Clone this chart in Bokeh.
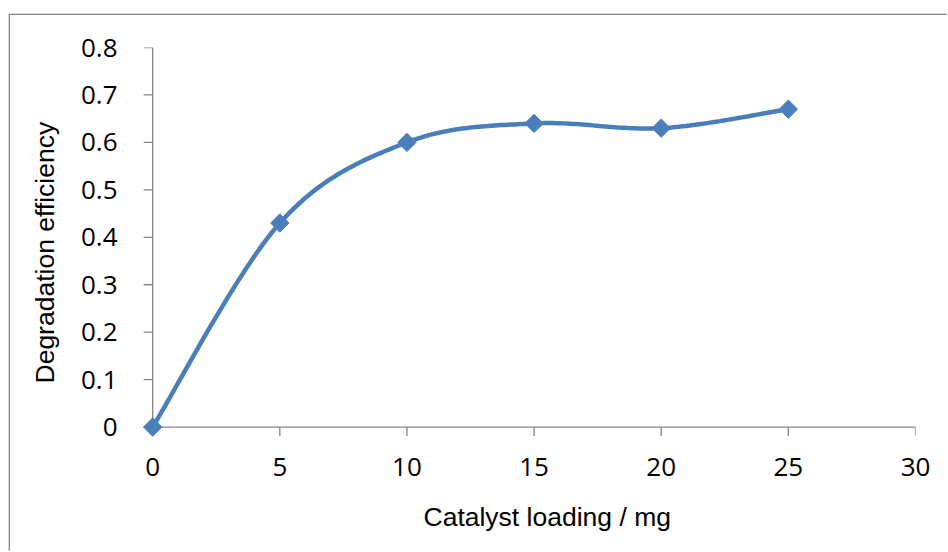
import numpy as np
from bokeh.plotting import figure
from bokeh.models import Range1d, FixedTicker, ColumnDataSource, Title
from bokeh.embed import file_html
from bokeh.resources import INLINE

# data
loading_mg = [0, 5, 10, 15, 20, 25]
efficiency = [0.0, 0.43, 0.60, 0.64, 0.63, 0.67]
x_ticks = [0, 5, 10, 15, 20, 25, 30]
y_ticks = [0, 0.1, 0.2, 0.3, 0.4, 0.5, 0.6, 0.7, 0.8]
x_title = "Catalyst loading / mg"
y_title = "Degradation efficiency"

BLUE = "#4A7EBB"
GRAY = "#868686"


def smooth(xs, ys, n=40):
    """Excel-like smoothed line (Catmull-Rom Bezier) through the points."""
    P = np.column_stack([xs, ys]).astype(float)
    out = []
    for i in range(len(P) - 1):
        p0 = P[i - 1] if i > 0 else P[i]
        p1, p2 = P[i], P[i + 1]
        p3 = P[i + 2] if i + 2 < len(P) else P[i + 1]
        c1 = p1 + (p2 - p0) / 6.0
        c2 = p2 - (p3 - p1) / 6.0
        t = np.linspace(0, 1, n)[:, None]
        seg = ((1 - t) ** 3) * p1 + 3 * ((1 - t) ** 2) * t * c1 + 3 * (1 - t) * t ** 2 * c2 + t ** 3 * p2
        out.append(seg if i == 0 else seg[1:])
    pts = np.vstack(out)
    return pts[:, 0], pts[:, 1]


X0, X1 = -0.4, 30
Y0, Y1 = -0.022, 0.8
W, H = 938, 537
ML, MR, MT, MB = 132, 33, 32, 115

p = figure(width=W, height=H, output_backend="svg", toolbar_location=None,
           x_range=Range1d(X0, X1), y_range=Range1d(Y0, Y1),
           min_border_left=ML, min_border_right=MR, min_border_top=MT, min_border_bottom=MB)
p.outline_line_color = None
p.grid.visible = False
p.margin = (15, 0, 0, 10)
p.styles = {"box-shadow": "-1.3px -1.3px 0px 0px #868686"}

# pixel scale -> data lengths for tick marks
px_x = (X1 - X0) / (W - ML - MR)
px_y = (Y1 - Y0) / (H - MT - MB)
tick_px = 9

# axis lines and ticks (drawn at x=0 / y=0 inside the frame)
p.segment(x0=[0, 0], y0=[0, 0], x1=[x_ticks[-1], 0], y1=[0, y_ticks[-1]],
          line_color=GRAY, line_width=1.3)
p.segment(x0=x_ticks, y0=[0] * len(x_ticks), x1=x_ticks, y1=[-tick_px * px_y] * len(x_ticks),
          line_color=GRAY, line_width=1.3)
p.segment(x0=[0] * len(y_ticks), y0=y_ticks, x1=[-tick_px * px_x] * len(y_ticks), y1=y_ticks,
          line_color=GRAY, line_width=1.3)

sx, sy = smooth(loading_mg, efficiency)
p.line(sx, sy, line_color=BLUE, line_width=4.5)
src = ColumnDataSource(dict(x=loading_mg, y=efficiency))
p.scatter("x", "y", source=src, marker="square", size=13, angle=np.pi / 4,
          fill_color=BLUE, line_color=BLUE)

for ax, ticks in ((p.xaxis[0], x_ticks), (p.yaxis[0], y_ticks)):
    ax.ticker = FixedTicker(ticks=ticks)
    ax.axis_line_color = None
    ax.major_tick_line_color = None
    ax.major_tick_in = 0
    ax.major_tick_out = 0
    ax.minor_tick_line_color = None
    ax.major_label_text_font = "Open Sans"
    ax.major_label_text_font_size = "26px"
    ax.major_label_text_color = "black"

p.xaxis[0].major_label_standoff = 20
p.yaxis[0].major_label_standoff = 25
p.yaxis[0].major_label_overrides = {0: "0"}

p.add_layout(Title(text=x_title, align="left", offset=281, standoff=42,
                   text_font="Liberation Sans", text_font_size="26.5px",
                   text_font_style="normal", text_color="black"), "below")
p.add_layout(Title(text=y_title, align="left", offset=54, standoff=35,
                   text_font="Liberation Sans", text_font_size="26.5px",
                   text_font_style="normal", text_color="black"), "left")

open("out.html", "w").write(file_html(p, INLINE))
